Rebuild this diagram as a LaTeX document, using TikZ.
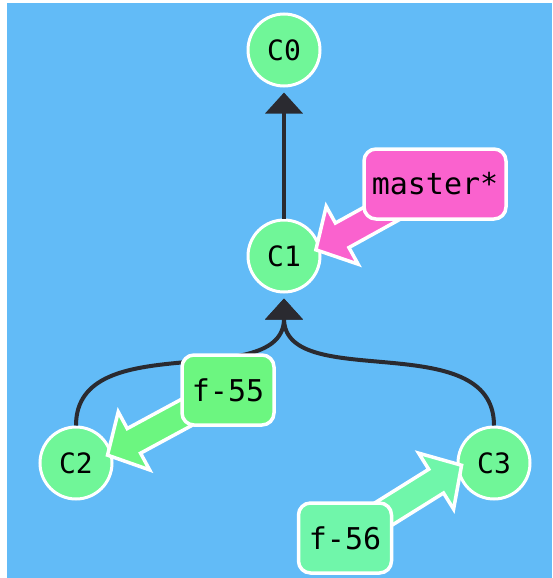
\documentclass[tikz,border=0pt]{standalone}
\usepackage{fontspec}
\setmonofont{DejaVu Sans Mono}
\usepackage{tikz}
\usetikzlibrary{arrows.meta,calc}

\definecolor{bgblue}{RGB}{98,187,247}
\definecolor{commitgreen}{RGB}{112,246,152}
\definecolor{featgreen}{RGB}{108,246,128}
\definecolor{featmint}{RGB}{112,246,170}
\definecolor{headpink}{RGB}{250,98,206}
\definecolor{edgedark}{RGB}{42,42,48}

\pgfdeclarelayer{front}
\pgfsetlayers{main,front}

% fat branch pointer: colour, label node, commit node, angle on the commit
\newcommand{\pointer}[4]{%
  \path (#2.center) coordinate (p-s) ($(#3.#4)!5pt!(#3.center)$) coordinate (p-t);
  \coordinate (p-b) at ($(p-t)!30pt!(p-s)$);
  \filldraw[ptr, fill=#1]
    ($(p-s)!14pt!90:(p-t)$) -- ($(p-b)!14pt!90:(p-t)$) -- ($(p-b)!33pt!90:(p-t)$)
    -- (p-t) -- ($(p-b)!33pt!-90:(p-t)$) -- ($(p-b)!14pt!-90:(p-t)$)
    -- ($(p-s)!14pt!-90:(p-t)$) -- cycle;
}

\begin{document}
\begin{tikzpicture}[
  x=1pt, y=-1pt,
  commit/.style={circle, draw=white, line width=3pt, fill=commitgreen, minimum size=72pt, inner sep=0pt, font=\ttfamily\fontsize{28}{28}\selectfont},
  branch/.style={draw=white, line width=3.5pt, rounded corners=12pt, minimum height=70pt, inner sep=0pt, font=\ttfamily\fontsize{30}{30}\selectfont},
  parent/.style={line width=4pt, draw=edgedark, -{Triangle[length=21pt, width=37pt]}, shorten >=5pt},
  ptr/.style={draw=white, line width=3.5pt, line join=miter},
]

% Background
\fill[white] (0,0) rectangle (552,578);
\fill[bgblue] (7,3) rectangle (552,578);
\useasboundingbox (0,0) rectangle (552,578);

% Commits
\node[commit] (c0) at (284,50) {C0};
\node[commit] (c1) at (284,256) {C1};
\node[commit] (c2) at (76,463) {C2};
\node[commit] (c3) at (494,463) {C3};

% Parent links
\draw[parent] (c1) -- (c0);
\draw[parent] (c2.north) .. controls +(0,-100) and +(0,100) .. (c1.south);
\draw[parent] (c3.north) .. controls +(0,-100) and +(0,100) .. (c1.south);

% Branch labels
\begin{pgfonlayer}{front}
\node[branch, fill=headpink, minimum width=142pt] (master) at (435,184) {master*};
\node[branch, fill=featgreen, minimum width=92pt] (f55) at (228,390) {f-55};
\node[branch, fill=featmint, minimum width=93pt] (f56) at (345,538) {f-56};
\end{pgfonlayer}

% Pointers
\pointer{headpink}{master}{c1}{11}
\pointer{featgreen}{f55}{c2}{14}
\pointer{featmint}{f56}{c3}{184}

\end{tikzpicture}
\end{document}
